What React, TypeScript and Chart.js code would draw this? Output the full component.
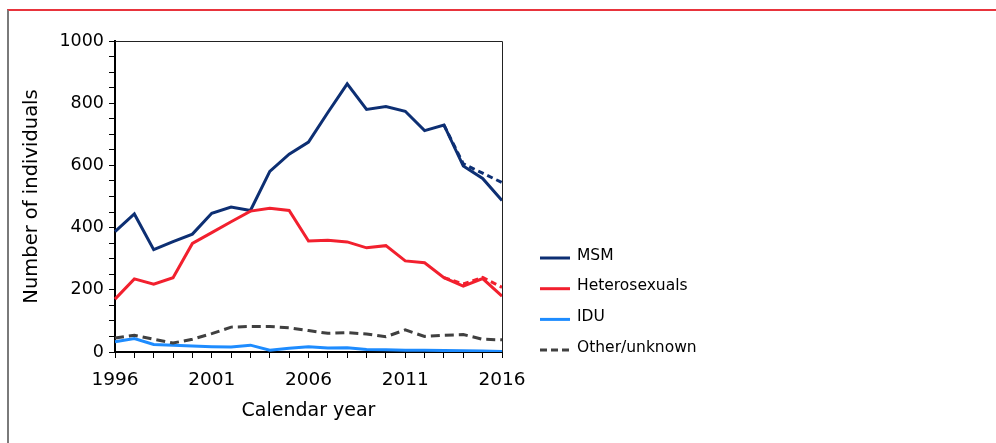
import React, { useEffect, useRef } from "react";
import { Chart, registerables } from "chart.js";

Chart.register(...registerables);

const years = [
  "1996", "1997", "1998", "1999", "2000", "2001", "2002", "2003", "2004", "2005", "2006",
  "2007", "2008", "2009", "2010", "2011", "2012", "2013", "2014", "2015", "2016",
];
const msm = [387, 444, 329, 355, 379, 446, 466, 455, 581, 636, 675, 770, 862, 780, 789, 774, 712, 730, 598, 558, 487];
const msmProjected = [null, null, null, null, null, null, null, null, null, null, null, null, null, null, null, null, null, 730, 605, 575, 545];
const hetero = [170, 235, 218, 239, 349, 384, 419, 453, 462, 455, 357, 359, 354, 335, 342, 293, 287, 239, 212, 236, 180];
const heteroProjected = [null, null, null, null, null, null, null, null, null, null, null, null, null, null, null, null, null, 239, 219, 240, 208];
const idu = [33, 43, 24, 22, 19, 17, 16, 22, 6, 12, 17, 13, 14, 8, 7, 6, 6, 5, 4, 3, 2];
const other = [45, 54, 41, 29, 41, 59, 80, 82, 82, 78, 69, 60, 62, 58, 49, 71, 50, 54, 56, 41, 39];

const legendLabels = ["MSM", "Heterosexuals", "IDU", "Other/unknown"];
const yTickLabels = [0, 200, 400, 600, 800, 1000];

const FONT = "'DejaVu Sans', Verdana, sans-serif";
const C_MSM = "#0d2f73";
const C_HET = "#f2202e";
const C_IDU = "#1e8cff";
const C_OTH = "#404040";

const framePlugin = {
  id: "frame",
  afterDatasetsDraw(chart: any) {
    const { ctx, chartArea } = chart;
    ctx.save();
    ctx.strokeStyle = "#222";
    ctx.lineWidth = 1;
    ctx.beginPath();
    ctx.moveTo(chartArea.left, chartArea.top + 0.5);
    ctx.lineTo(Math.round(chartArea.right) + 0.5, chartArea.top + 0.5);
    ctx.lineTo(Math.round(chartArea.right) + 0.5, chartArea.bottom);
    ctx.stroke();
    ctx.restore();
  },
};

const legendPlugin = {
  id: "customLegend",
  afterDraw(chart: any) {
    const { ctx } = chart;
    ctx.save();
    legendLabels.forEach((lab, i) => {
      const d = chart.data.datasets.find((ds: any) => ds.label === lab);
      if (!d) return;
      const y = 258 + i * 30.7;
      ctx.strokeStyle = d.borderColor;
      ctx.lineWidth = 3;
      ctx.setLineDash(d.borderDash && d.borderDash.length ? [7, 4] : []);
      ctx.beginPath();
      ctx.moveTo(540, y);
      ctx.lineTo(570, y);
      ctx.stroke();
      ctx.setLineDash([]);
      ctx.fillStyle = "#000";
      ctx.font = `15.5px ${FONT}`;
      ctx.textBaseline = "alphabetic";
      ctx.textAlign = "left";
      ctx.fillText(lab, 577, y + 1.5);
    });
    ctx.restore();
  },
};

export default function App() {
  const ref = useRef<HTMLCanvasElement | null>(null);

  useEffect(() => {
    if (!ref.current) return;
    const base = { pointRadius: 0, tension: 0, borderWidth: 3, fill: false, spanGaps: false };
    const chart = new Chart(ref.current, {
      type: "line",
      data: {
        labels: years,
        datasets: [
          { ...base, label: "MSM projected", data: msmProjected, borderColor: C_MSM, borderDash: [6, 4] } as any,
          { ...base, label: "Heterosexuals projected", data: heteroProjected, borderColor: C_HET, borderDash: [6, 4] } as any,
          { ...base, label: legendLabels[3], data: other, borderColor: C_OTH, borderDash: [9, 5] } as any,
          { ...base, label: legendLabels[2], data: idu, borderColor: C_IDU } as any,
          { ...base, label: legendLabels[1], data: hetero, borderColor: C_HET } as any,
          { ...base, label: legendLabels[0], data: msm, borderColor: C_MSM } as any,
        ],
      },
      options: {
        responsive: false,
        animation: false,
        devicePixelRatio: 1,
        layout: { padding: { left: 0, top: 41, right: 494, bottom: 0 } },
        plugins: { legend: { display: false }, tooltip: { enabled: false } },
        scales: {
          x: {
            type: "category",
            offset: false,
            grid: { drawOnChartArea: false, drawTicks: true, tickLength: 6, color: "#000", tickWidth: 1 },
            border: { display: true, color: "#000", width: 2 },
            ticks: {
              autoSkip: false,
              maxRotation: 0,
              color: "#000",
              padding: 11,
              font: { family: FONT, size: 18.5 },
              callback: (_v: any, i: number) => (i % 5 === 0 ? years[i] : ""),
            },
            title: {
              display: true,
              text: "Calendar year",
              color: "#000",
              font: { family: FONT, size: 19 },
              padding: { top: 0, bottom: 21 },
            },
            afterFit: (s: any) => {
              s.height = 91;
            },
          },
          y: {
            type: "linear",
            min: 0,
            max: 1000,
            grid: { drawOnChartArea: false, drawTicks: true, tickLength: 6, color: "#000", tickWidth: 1 },
            border: { display: true, color: "#000", width: 2 },
            ticks: {
              stepSize: 50,
              autoSkip: false,
              maxTicksLimit: 100,
              color: "#000",
              padding: 5,
              font: { family: FONT, size: 17.5 },
              callback: (v: any) => (yTickLabels.includes(Number(v)) ? String(v) : ""),
            },
            title: {
              display: true,
              text: "Number of individuals",
              color: "#000",
              font: { family: FONT, size: 19.5 },
              padding: { top: 20, bottom: 0 },
            },
            afterFit: (s: any) => {
              s.width = 115;
            },
          },
        },
      },
      plugins: [framePlugin, legendPlugin],
    });
    return () => chart.destroy();
  }, []);

  return (
    <div style={{ position: "absolute", left: 0, top: 0, width: 996, height: 443, background: "#fff", overflow: "hidden" }}>
      <div
        style={{
          position: "absolute",
          left: 7,
          top: 9,
          width: 996 - 7,
          height: 443 - 9,
          borderTop: "2px solid #e8343c",
          borderLeft: "2px solid #7a7a7a",
          boxSizing: "border-box",
        }}
      />
      <canvas ref={ref} width={996} height={443} style={{ position: "absolute", left: 0, top: 0 }} />
    </div>
  );
}
